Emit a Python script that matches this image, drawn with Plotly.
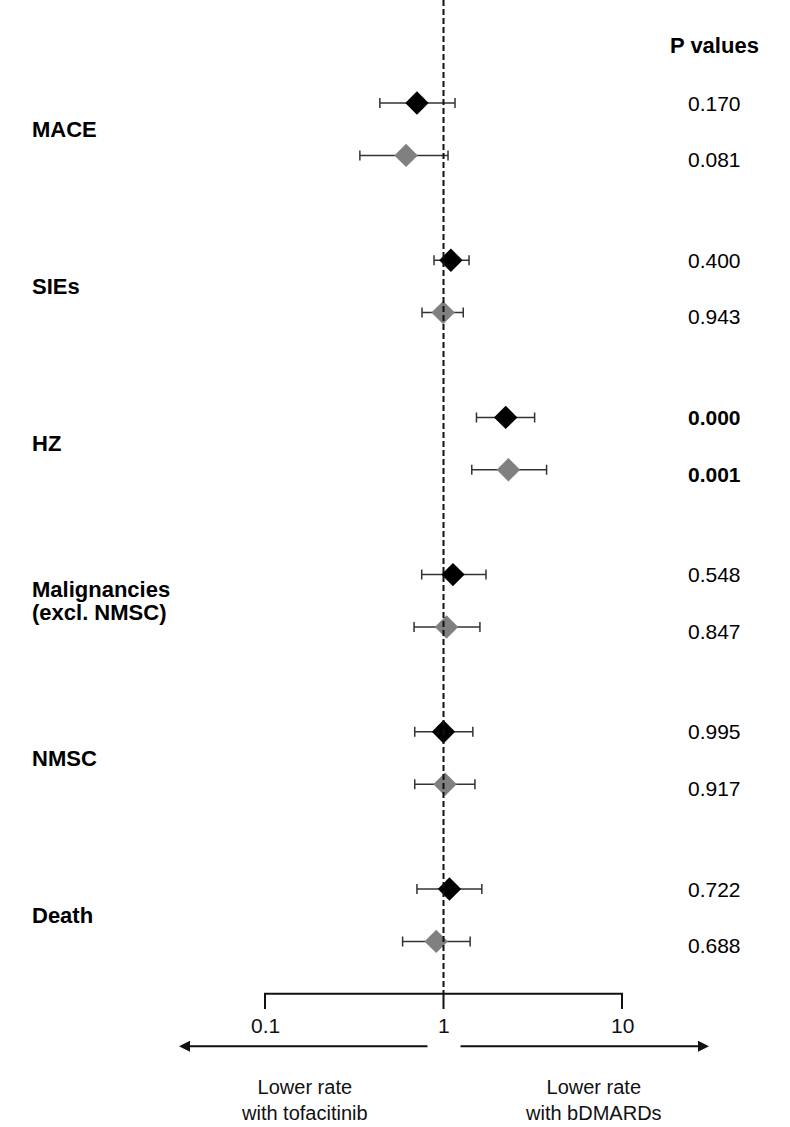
import math
import plotly.graph_objects as go

# ---- data ----
outcomes = ["MACE", "SIEs", "HZ", "Malignancies<br>(excl. NMSC)", "NMSC", "Death"]

# series 1 (black)
est_a = [0.71, 1.10, 2.23, 1.13, 1.00, 1.08]
lo_a = [0.44, 0.885, 1.53, 0.755, 0.69, 0.71]
hi_a = [1.16, 1.39, 3.24, 1.73, 1.46, 1.64]
p_a = ["0.170", "0.400", "0.000", "0.548", "0.995", "0.722"]

# series 2 (gray)
est_b = [0.617, 0.995, 2.31, 1.04, 1.02, 0.91]
lo_b = [0.34, 0.758, 1.44, 0.684, 0.69, 0.59]
hi_b = [1.06, 1.29, 3.78, 1.60, 1.50, 1.41]
p_b = ["0.081", "0.943", "0.001", "0.847", "0.917", "0.688"]

bold_p = ["0.000", "0.001"]

tick_vals = [0.1, 1, 10]
tick_text = ["0.1", "1", "10"]

left_note = "Lower rate<br>with tofacitinib"
right_note = "Lower rate<br>with bDMARDs"

FONT = "Liberation Sans, Arial, Helvetica, sans-serif"
BLACK = "#000000"
GRAY = "#808080"
ERR = "#333333"
INK = "#111111"

n = len(outcomes)
row_a = [3 * i for i in range(n)]
row_b = [3 * i + 1 for i in range(n)]

fig = go.Figure()


def add_series(est, lo, hi, rows, color):
    fig.add_trace(go.Scatter(
        x=est, y=rows, mode="markers",
        marker=dict(symbol="diamond", size=18, color=color, line=dict(width=0)),
        error_x=dict(type="data", symmetric=False,
                     array=[h - e for h, e in zip(hi, est)],
                     arrayminus=[e - l for e, l in zip(est, lo)],
                     color=ERR, thickness=1.5, width=5),
        showlegend=False, hoverinfo="skip"))


add_series(est_a, lo_a, hi_a, row_a, BLACK)
add_series(est_b, lo_b, hi_b, row_b, GRAY)

# bracket axis
BR_TOP = 17.0
BR_BOT = 17.29
fig.add_trace(go.Scatter(
    x=[tick_vals[0], tick_vals[0], tick_vals[-1], tick_vals[-1]],
    y=[BR_BOT, BR_TOP, BR_TOP, BR_BOT],
    mode="lines", line=dict(color=INK, width=2),
    showlegend=False, hoverinfo="skip"))
fig.add_trace(go.Scatter(
    x=[tick_vals[1], tick_vals[1]], y=[BR_TOP, BR_BOT],
    mode="lines", line=dict(color=INK, width=2),
    showlegend=False, hoverinfo="skip"))

# dashed reference line at 1
fig.add_trace(go.Scatter(
    x=[1, 1], y=[-1.966, BR_TOP],
    mode="lines", line=dict(color=INK, width=2, dash="6px,3px"),
    showlegend=False, hoverinfo="skip"))

annotations = []
for v, t in zip(tick_vals, tick_text):
    annotations.append(dict(x=math.log10(v), y=17.6, xref="x", yref="y",
                            text=t, showarrow=False, xanchor="center",
                            font=dict(family=FONT, size=21, color=INK)))

# outcome labels (multi-line labels set line by line with tight leading)
LINE = 0.43
for i, name in enumerate(outcomes):
    lines = name.split("<br>")
    mid = 3 * i + 0.5
    for k, ln in enumerate(lines):
        yy = mid + (k - (len(lines) - 1) / 2) * LINE
        annotations.append(dict(x=0.038, y=yy, xref="paper", yref="y",
                                text="<b>" + ln + "</b>", showarrow=False,
                                xanchor="left", align="left",
                                font=dict(family=FONT, size=22, color="#000000")))

# p-values
PX = 0.905
annotations.append(dict(x=PX, y=-1.107, xref="paper", yref="y",
                        text="<b>P values</b>", showarrow=False, xanchor="center",
                        font=dict(family=FONT, size=22, color="#000000")))
for rows, ps, off in ((row_a, p_a, 0.0), (row_b, p_b, 0.08)):
    for r, p in zip(rows, ps):
        txt = "<b>" + p + "</b>" if p in bold_p else p
        annotations.append(dict(x=PX, y=r + off, xref="paper", yref="y",
                                text=txt, showarrow=False, xanchor="center",
                                font=dict(family=FONT, size=21, color="#000000")))

# direction arrows
ARROW_Y = 18.0
annotations.append(dict(x=179 / 790, y=ARROW_Y, ax=429 / 790, ay=ARROW_Y,
                        xref="x domain", yref="y", axref="x domain", ayref="y",
                        text="", showarrow=True, arrowhead=2, arrowsize=1.1,
                        arrowwidth=2, arrowcolor=INK))
annotations.append(dict(x=709 / 790, y=ARROW_Y, ax=459 / 790, ay=ARROW_Y,
                        xref="x domain", yref="y", axref="x domain", ayref="y",
                        text="", showarrow=True, arrowhead=2, arrowsize=1.1,
                        arrowwidth=2, arrowcolor=INK))

for cx, note in ((304 / 790, left_note), (593 / 790, right_note)):
    annotations.append(dict(x=cx, y=19.02, xref="paper", yref="y",
                            text=note, showarrow=False, xanchor="center",
                            align="center",
                            font=dict(family=FONT, size=20, color=INK)))

fig.update_layout(
    width=790, height=1127,
    margin=dict(l=0, r=0, t=0, b=0),
    plot_bgcolor="white", paper_bgcolor="white",
    xaxis=dict(type="log", range=[-2.4846, 1.9412], visible=False),
    yaxis=dict(range=[19.542, -1.966], visible=False),
    annotations=annotations,
)

fig.write_html("out.html")
